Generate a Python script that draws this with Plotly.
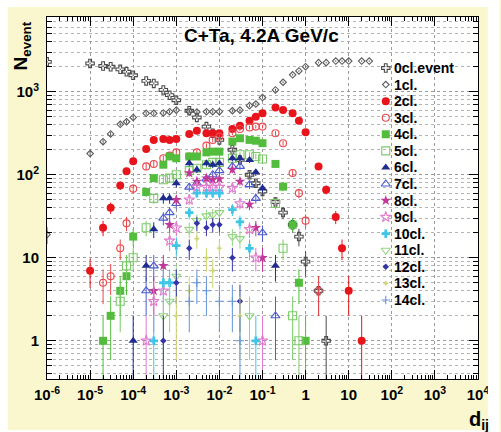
import numpy as np
import plotly.graph_objects as go

# ---- d_ij bins and event counts per cluster multiplicity ----
d_0cl = [1e-6, 1e-5, 2e-5, 3e-5, 5e-5, 7e-5, 1e-4, 2e-4, 3e-4, 5e-4, 7e-4,
         1e-3, 2e-3, 3e-3, 5e-3, 7e-3, 1e-2, 2e-2, 3e-2, 5e-2, 7e-2,
         0.1, 0.2, 0.3, 0.5, 0.7, 1, 2, 3]
n_0cl = [2290, 2190, 2040, 2000, 1860, 1740, 1580, 1350, 1260, 1050, 910,
         790, 590, 490, 380, 316, 263, 200, 151, 100, 79,
         63, 47, 35, 25, 18, 9, 4, 1]

d_1cl = [1e-6, 1e-5, 2e-5, 3e-5, 5e-5, 7e-5, 1e-4, 2e-4, 3e-4, 5e-4, 7e-4,
         1e-3, 2e-3, 3e-3, 5e-3, 7e-3, 1e-2, 2e-2, 3e-2, 5e-2, 7e-2,
         0.1, 0.2, 0.3, 0.5, 0.7, 1, 2, 3, 5, 7, 10, 20, 30]
n_1cl = [19, 180, 250, 310, 405, 435, 490, 550, 550, 555, 575,
         600, 575, 570, 575, 575, 575, 590, 600, 680, 710,
         850, 1050, 1300, 1600, 1780, 2000, 2240, 2240, 2340, 2340, 2340, 2340, 2340]

d_2cl = [1e-5, 2e-5, 3e-5, 5e-5, 7e-5, 1e-4, 2e-4, 3e-4, 5e-4, 7e-4,
         1e-3, 2e-3, 3e-3, 5e-3, 7e-3, 1e-2, 2e-2, 3e-2, 5e-2, 7e-2,
         0.1, 0.2, 0.3, 0.5, 0.7, 1, 2, 3, 5, 7, 10, 20]
n_2cl = [7, 23, 40, 74, 110, 145, 204, 263, 269, 263,
         269, 309, 339, 316, 316, 316, 355, 389, 447, 501,
         550, 646, 603, 550, 447, 324, 126, 66, 31, 13, 4, 1]

d_3cl = [2e-5, 3e-5, 5e-5, 7e-5, 1e-4, 2e-4, 3e-4, 5e-4, 7e-4,
         1e-3, 2e-3, 3e-3, 5e-3, 7e-3, 1e-2, 2e-2, 3e-2, 5e-2, 7e-2,
         0.1, 0.2, 0.3, 0.5, 0.7, 1, 2]
n_3cl = [5, 6, 13, 26, 68, 126, 135, 158, 170,
         186, 166, 186, 224, 263, 288, 316, 355, 372, 380,
         380, 316, 240, 105, 60, 28, 4]

d_4cl = [2e-5, 3e-5, 5e-5, 7e-5, 1e-4, 2e-4, 3e-4, 5e-4, 7e-4,
         1e-3, 2e-3, 3e-3, 5e-3, 7e-3, 1e-2, 2e-2, 3e-2, 5e-2, 7e-2,
         0.1, 0.2, 0.3, 0.5, 0.7, 1]
n_4cl = [1, 2, 4, 6, 18, 62, 91, 132, 166,
         158, 166, 166, 186, 190, 190, 251, 275, 263, 257,
         240, 135, 72, 25, 5, 1]

d_5cl = [5e-5, 7e-5, 1e-4, 2e-4, 3e-4, 5e-4, 7e-4,
         1e-3, 2e-3, 3e-3, 5e-3, 7e-3, 1e-2, 2e-2, 3e-2, 5e-2, 7e-2,
         0.1, 0.2, 0.3, 0.5, 0.7]
n_5cl = [3, 8, 10, 23, 52, 87, 91,
         100, 112, 120, 132, 141, 141, 158, 174, 174, 166,
         155, 45, 13, 2, 1]

d_6cl = [1e-4, 2e-4, 3e-4, 5e-4, 7e-4, 1e-3, 2e-3, 3e-3, 5e-3, 7e-3,
         1e-2, 2e-2, 3e-2, 5e-2, 7e-2, 0.1, 0.2]
n_6cl = [1, 8, 22, 52, 52, 79, 138, 115, 138, 132,
         138, 158, 158, 151, 107, 69, 8]

d_7cl = [2e-4, 3e-4, 5e-4, 7e-4, 1e-3, 2e-3, 3e-3, 5e-3, 7e-3,
         1e-2, 2e-2, 3e-2, 5e-2, 7e-2, 0.1, 0.2]
n_7cl = [4, 8, 30, 35, 45, 71, 79, 89, 100,
         112, 126, 126, 76, 52, 20, 2]

d_8cl = [3e-4, 5e-4, 7e-4, 1e-3, 2e-3, 3e-3, 5e-3, 7e-3,
         1e-2, 2e-2, 3e-2, 5e-2, 7e-2, 0.1]
n_8cl = [4, 8, 25, 50, 105, 83, 91, 87,
         89, 115, 83, 44, 23, 10]

d_9cl = [2e-4, 3e-4, 5e-4, 7e-4, 1e-3, 2e-3, 3e-3, 5e-3, 7e-3,
         1e-2, 2e-2, 3e-2, 5e-2, 7e-2, 0.1]
n_9cl = [1, 3, 4, 16, 23, 50, 71, 71, 71,
         71, 69, 45, 22, 10, 1]

d_10cl = [3e-4, 5e-4, 7e-4, 1e-3, 2e-3, 3e-3, 5e-3, 7e-3,
          1e-2, 2e-2, 3e-2, 5e-2, 7e-2]
n_10cl = [1, 5, 5, 14, 35, 60, 60, 60,
          60, 38, 27, 13, 1]

d_11cl = [5e-4, 7e-4, 1e-3, 2e-3, 3e-3, 5e-3, 7e-3, 1e-2, 2e-2, 3e-2, 5e-2]
n_11cl = [2, 3, 6, 22, 28, 32, 33, 35, 18, 17, 2]

d_12cl = [5e-4, 1e-3, 2e-3, 3e-3, 5e-3, 7e-3, 1e-2, 2e-2, 3e-2]
n_12cl = [1, 5, 13, 26, 23, 25, 25, 10, 3]

d_13cl = [1e-3, 2e-3, 3e-3, 5e-3, 7e-3, 1e-2, 3e-2]
n_13cl = [2, 4, 17, 10, 7, 13, 2]

d_14cl = [2e-3, 3e-3, 5e-3, 1e-2, 2e-2, 3e-2]
n_14cl = [3, 5, 4, 3, 3, 1]

labels = ["0cl.event", "1cl.", "2cl.", "3cl.", "4cl.", "5cl.", "6cl.", "7cl.",
          "8cl.", "9cl.", "10cl.", "11cl.", "12cl.", "13cl.", "14cl."]

x_ticks = [1e-6, 1e-5, 1e-4, 1e-3, 1e-2, 1e-1, 1, 10, 1e2, 1e3, 1e4]
x_ticktext = ["10<sup>-6</sup>", "10<sup>-5</sup>", "10<sup>-4</sup>", "10<sup>-3</sup>",
              "10<sup>-2</sup>", "10<sup>-1</sup>", "1", "10", "10<sup>2</sup>",
              "10<sup>3</sup>", "10<sup>4</sup>"]
y_ticks = [1, 10, 100, 1000]
y_ticktext = ["1", "10", "10<sup>2</sup>", "10<sup>3</sup>"]

series = [(d_0cl, n_0cl), (d_1cl, n_1cl), (d_2cl, n_2cl), (d_3cl, n_3cl),
          (d_4cl, n_4cl), (d_5cl, n_5cl), (d_6cl, n_6cl), (d_7cl, n_7cl),
          (d_8cl, n_8cl), (d_9cl, n_9cl), (d_10cl, n_10cl), (d_11cl, n_11cl),
          (d_12cl, n_12cl), (d_13cl, n_13cl), (d_14cl, n_14cl)]

# marker style per series: (symbol, size, colour)
styles = [
    ("cross-open", 7, "#4a4a4a"),
    ("diamond-open", 5, "#5a5a5a"),
    ("circle", 8, "#e8141c"),
    ("circle-open", 7, "#e8474c"),
    ("square", 8, "#52bd3c"),
    ("square-open", 8, "#7acb68"),
    ("triangle-up", 8, "#1f2b8e"),
    ("triangle-up-open", 8, "#4c5cd0"),
    ("star", 8, "#c03898"),
    ("star-open", 8, "#e07ccf"),
    ("cross", 7, "#3fc6e6"),
    ("triangle-down-open", 8, "#94d584"),
    ("diamond", 5, "#3434a8"),
    ("cross", 4, "#cfd672"),
    ("cross-thin-open", 6, "#6494d8"),
]

fig = go.Figure()

for (d, n), (sym, size, col), name in zip(series, styles, labels):
    is_open = sym.endswith("open")
    fig.add_trace(go.Scatter(
        x=d, y=n, mode="markers", name=name, showlegend=False,
        marker=dict(symbol=sym, size=size, color=col,
                    line=dict(width=1.1 if is_open else 0, color=col)),
        error_y=dict(type="sqrt", color=col, thickness=1, width=0),
        cliponaxis=True,
    ))

# legend block: markers on an overlaid unit axis, labels as annotations
leg_x = 0.786
leg_top_px, leg_step_px = 68, 16.57
plot_top, plot_h = 17, 362
leg_y = [(plot_top + plot_h - (leg_top_px + i * leg_step_px)) / plot_h
         for i in range(len(labels))]
for (sym, size, col), yy in zip(styles, leg_y):
    is_open = sym.endswith("open")
    fig.add_trace(go.Scatter(
        x=[leg_x], y=[yy], xaxis="x2", yaxis="y2", mode="markers",
        showlegend=False, hoverinfo="skip",
        marker=dict(symbol=sym, size=size, color=col,
                    line=dict(width=1.1 if is_open else 0, color=col)),
    ))

annotations = []
for name, yy in zip(labels, leg_y):
    annotations.append(dict(
        text=name, x=0.800, y=yy, xref="paper", yref="paper",
        xanchor="left", yanchor="middle", showarrow=False,
        font=dict(family="Liberation Sans", size=14, color="black", weight="bold"),
    ))

annotations.append(dict(
    text="C+Ta, 4.2A GeV/c", x=0.498, y=0.950, xref="paper", yref="paper",
    xanchor="center", yanchor="middle", showarrow=False,
    font=dict(family="Liberation Sans", size=19, color="black", weight="bold"),
))
annotations.append(dict(
    text="N<sub>event</sub>", x=-0.057, y=0.92, xref="paper", yref="paper",
    xanchor="center", yanchor="middle", showarrow=False, textangle=-90,
    font=dict(family="Liberation Sans", size=19, color="black", weight="bold"),
))
annotations.append(dict(
    text="d<sub>ij</sub>", x=1.003, y=-0.116, xref="paper", yref="paper",
    xanchor="center", yanchor="middle", showarrow=False,
    font=dict(family="Liberation Sans", size=20, color="black", weight="bold"),
))

minor_x = [m * 10.0 ** e for e in range(-6, 4) for m in range(2, 10)]
minor_y = [m * 10.0 ** e for e in range(-1, 4) for m in range(2, 10)]

grid_col = "#9a9a9a"
tick_font = dict(family="Liberation Sans", size=15, color="black", weight="bold")

# thin white strips around the pale canvas
edge = dict(type="rect", xref="paper", yref="paper", fillcolor="white",
            line=dict(width=0), layer="above")
frame = [
    dict(edge, x0=-0.12, x1=-0.0909, y0=-0.16, y1=1.06),   # left
    dict(edge, x0=1.0227, x1=1.05, y0=-0.16, y1=1.06),     # right
    dict(edge, x0=-0.12, x1=1.05, y0=1.0276, y1=1.06),     # top
    dict(edge, x0=-0.12, x1=1.05, y0=-0.16, y1=-0.1409),   # bottom
    # white plotting area, beneath the grid
    dict(type="rect", xref="x domain", yref="y domain", x0=0, x1=1, y0=0, y1=1,
         fillcolor="white", line=dict(width=0), layer="below"),
]

fig.update_layout(
    width=501, height=432,
    margin=dict(l=47, r=14, t=17, b=53),
    paper_bgcolor="#faf7cf",
    plot_bgcolor="white",
    showlegend=False,
    annotations=annotations,
    shapes=frame,
    xaxis=dict(
        type="log", range=[-6, 4],
        tickmode="array", tickvals=x_ticks, ticktext=x_ticktext,
        tickfont=tick_font, ticks="inside", ticklen=9, tickcolor="black",
        mirror="allticks", showline=True, linecolor="black", linewidth=1,
        showgrid=True, gridcolor=grid_col, griddash="dot", gridwidth=1,
        zeroline=False, ticklabelstandoff=2,
        minor=dict(tickmode="array", tickvals=minor_x, ticks="inside",
                   ticklen=4, tickcolor="black", showgrid=False),
    ),
    yaxis=dict(
        type="log", range=[-0.46, 3.90],
        tickmode="array", tickvals=y_ticks, ticktext=y_ticktext,
        tickfont=tick_font, ticks="inside", ticklen=9, tickcolor="black",
        mirror="allticks", showline=True, linecolor="black", linewidth=1,
        showgrid=True, gridcolor=grid_col, griddash="dot", gridwidth=1,
        zeroline=False, ticklabelstandoff=4,
        minor=dict(tickmode="array", tickvals=minor_y, ticks="inside",
                   ticklen=5, tickcolor="black", showgrid=True,
                   gridcolor="#b4b4b4", griddash="dot", gridwidth=1),
    ),
    xaxis2=dict(overlaying="x", range=[0, 1], visible=False, fixedrange=True),
    yaxis2=dict(overlaying="y", range=[0, 1], visible=False, fixedrange=True),
)

fig.write_html("out.html")
